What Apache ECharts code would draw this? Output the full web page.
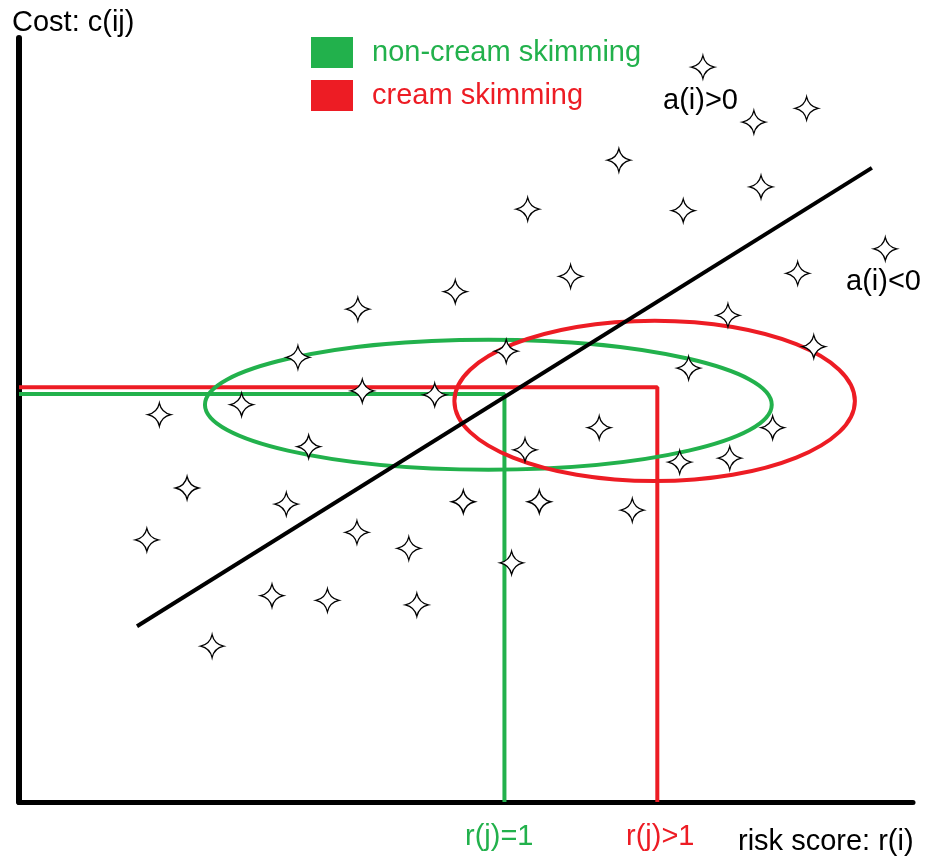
<!DOCTYPE html>
<html><head><meta charset="utf-8">
<script src="https://cdn.jsdelivr.net/npm/echarts@6/dist/echarts.min.js"></script>
<style>html,body{margin:0;padding:0;background:#fff}#c{width:925px;height:862px}</style>
</head><body><div id="c"></div>
<script>
// ---- data (axis units: risk score 0..100, cost 0..100) ----
const starX = [76.5, 88.1, 82.2, 67.1, 83.0, 56.9, 74.3, 96.9, 61.7, 87.1,
               48.8, 37.9, 79.3, 31.2, 54.5, 88.9, 74.9, 38.4, 46.5, 24.9,
               15.7, 64.9, 84.3, 32.4, 56.6, 73.9, 79.5, 18.8, 49.7, 29.9,
               58.2, 68.6, 14.3, 37.8, 43.6, 55.1, 28.3, 34.5, 44.5, 21.6];
const starY = [96.2, 90.8, 89.0, 84.0, 80.5, 77.6, 77.4, 72.4, 68.8, 69.2,
               66.8, 64.5, 63.7, 58.2, 59.0, 59.6, 56.8, 53.8, 53.3, 52.0,
               50.7, 49.0, 49.0, 46.5, 46.1, 44.5, 45.0, 41.1, 39.3, 39.0,
               39.3, 38.2, 34.3, 35.3, 33.2, 31.3, 27.0, 26.4, 25.8, 20.4];
const fitLineX = [13.2, 95.4];
const fitLineY = [23.0, 83.0];
const seriesNames = ['non-cream skimming', 'cream skimming'];
const nonCreamPathX = [0, 54.3, 54.3];
const nonCreamPathY = [53.4, 53.4, 0];
const creamPathX = [0, 71.4, 71.4];
const creamPathY = [54.3, 54.3, 0];
const ellipseCx = [52.5, 71.1];
const ellipseCy = [52.0, 52.5];
const ellipseRx = [31.7, 22.4];
const ellipseRy = [8.5, 10.5];
const thresholdLabels = ['r(j)=1', 'r(j)>1'];
const regionLabels = ['a(i)>0', 'a(i)<0'];
const axisTitles = ['risk score: r(i)', 'Cost: c(ij)'];

const GREEN = '#22b14c', RED = '#ed1c24';
const COLORS = [GREEN, RED];
const FAMILY = '"Liberation Sans", Arial, sans-serif';
const FONT = '29px ' + FAMILY;

const zip = (xs, ys) => xs.map((x, i) => [x, ys[i]]);

const chart = echarts.init(document.getElementById('c'), null, {renderer: 'canvas'});

const starPath = 'path://M0,-10 Q1.8,-1.8 10,0 Q1.8,1.8 0,10 Q-1.8,1.8 -10,0 Q-1.8,-1.8 0,-10 Z';

const option = {
  animation: false,
  backgroundColor: '#fff',
  grid: {left: 19, right: 12, top: 38, bottom: 60},
  xAxis: {
    type: 'value', min: 0, max: 100,
    axisLine: {show: true, onZero: false, lineStyle: {color: '#000', width: 5}},
    axisTick: {show: false}, axisLabel: {show: false}, splitLine: {show: false}
  },
  yAxis: {
    type: 'value', min: 0, max: 100,
    axisLine: {show: true, onZero: false, lineStyle: {color: '#000', width: 6}},
    axisTick: {show: false}, axisLabel: {show: false}, splitLine: {show: false}
  },
  legend: {
    orient: 'vertical', left: 306, top: 32,
    itemWidth: 42, itemHeight: 31, itemGap: 12,
    icon: 'rect', selectedMode: false,
    data: [
      {name: seriesNames[0], textStyle: {color: GREEN}},
      {name: seriesNames[1], textStyle: {color: RED}}
    ],
    textStyle: {fontSize: 29, fontFamily: FAMILY, padding: [0, 0, 4, 14]}
  },
  series: [
    {
      name: seriesNames[0], type: 'line', data: zip(nonCreamPathX, nonCreamPathY),
      symbol: 'none', lineStyle: {color: GREEN, width: 4}, itemStyle: {color: GREEN}, z: 2
    },
    {
      name: seriesNames[1], type: 'line', data: zip(creamPathX, creamPathY),
      symbol: 'none', lineStyle: {color: RED, width: 4}, itemStyle: {color: RED}, z: 2
    },
    {
      name: 'ellipses', type: 'custom', z: 3,
      data: ellipseCx.map((cx, i) => [cx, ellipseCy[i], ellipseRx[i], ellipseRy[i], i]),
      renderItem: function (params, api) {
        const c = api.coord([api.value(0), api.value(1)]);
        const s = api.size([api.value(2), api.value(3)]);
        return {
          type: 'ellipse',
          shape: {cx: c[0], cy: c[1], rx: s[0], ry: s[1]},
          style: {fill: 'none', stroke: COLORS[api.value(4)], lineWidth: 4}
        };
      }
    },
    {
      name: 'fit', type: 'line', data: zip(fitLineX, fitLineY),
      symbol: 'none', lineStyle: {color: '#000', width: 4}, z: 4
    },
    {
      name: 'patients', type: 'scatter', data: zip(starX, starY),
      symbol: starPath, symbolSize: 23,
      itemStyle: {color: '#fff', borderColor: '#000', borderWidth: 1.3, opacity: 1}, z: 5
    }
  ],
  graphic: [
    {type: 'text', style: {text: axisTitles[1], x: 12, y: 23, font: FONT, fill: '#000', verticalAlign: 'middle'}},
    {type: 'text', style: {text: axisTitles[0], x: 738, y: 842, font: FONT, fill: '#000', verticalAlign: 'middle'}},
    {type: 'text', style: {text: regionLabels[0], x: 663, y: 101, font: FONT, fill: '#000', verticalAlign: 'middle'}},
    {type: 'text', style: {text: regionLabels[1], x: 846, y: 282, font: FONT, fill: '#000', verticalAlign: 'middle'}},
    {type: 'text', style: {text: thresholdLabels[0], x: 465, y: 837, font: FONT, fill: GREEN, verticalAlign: 'middle'}},
    {type: 'text', style: {text: thresholdLabels[1], x: 626, y: 837, font: FONT, fill: RED, verticalAlign: 'middle'}}
  ]
};
chart.setOption(option);
</script>
</body></html>
